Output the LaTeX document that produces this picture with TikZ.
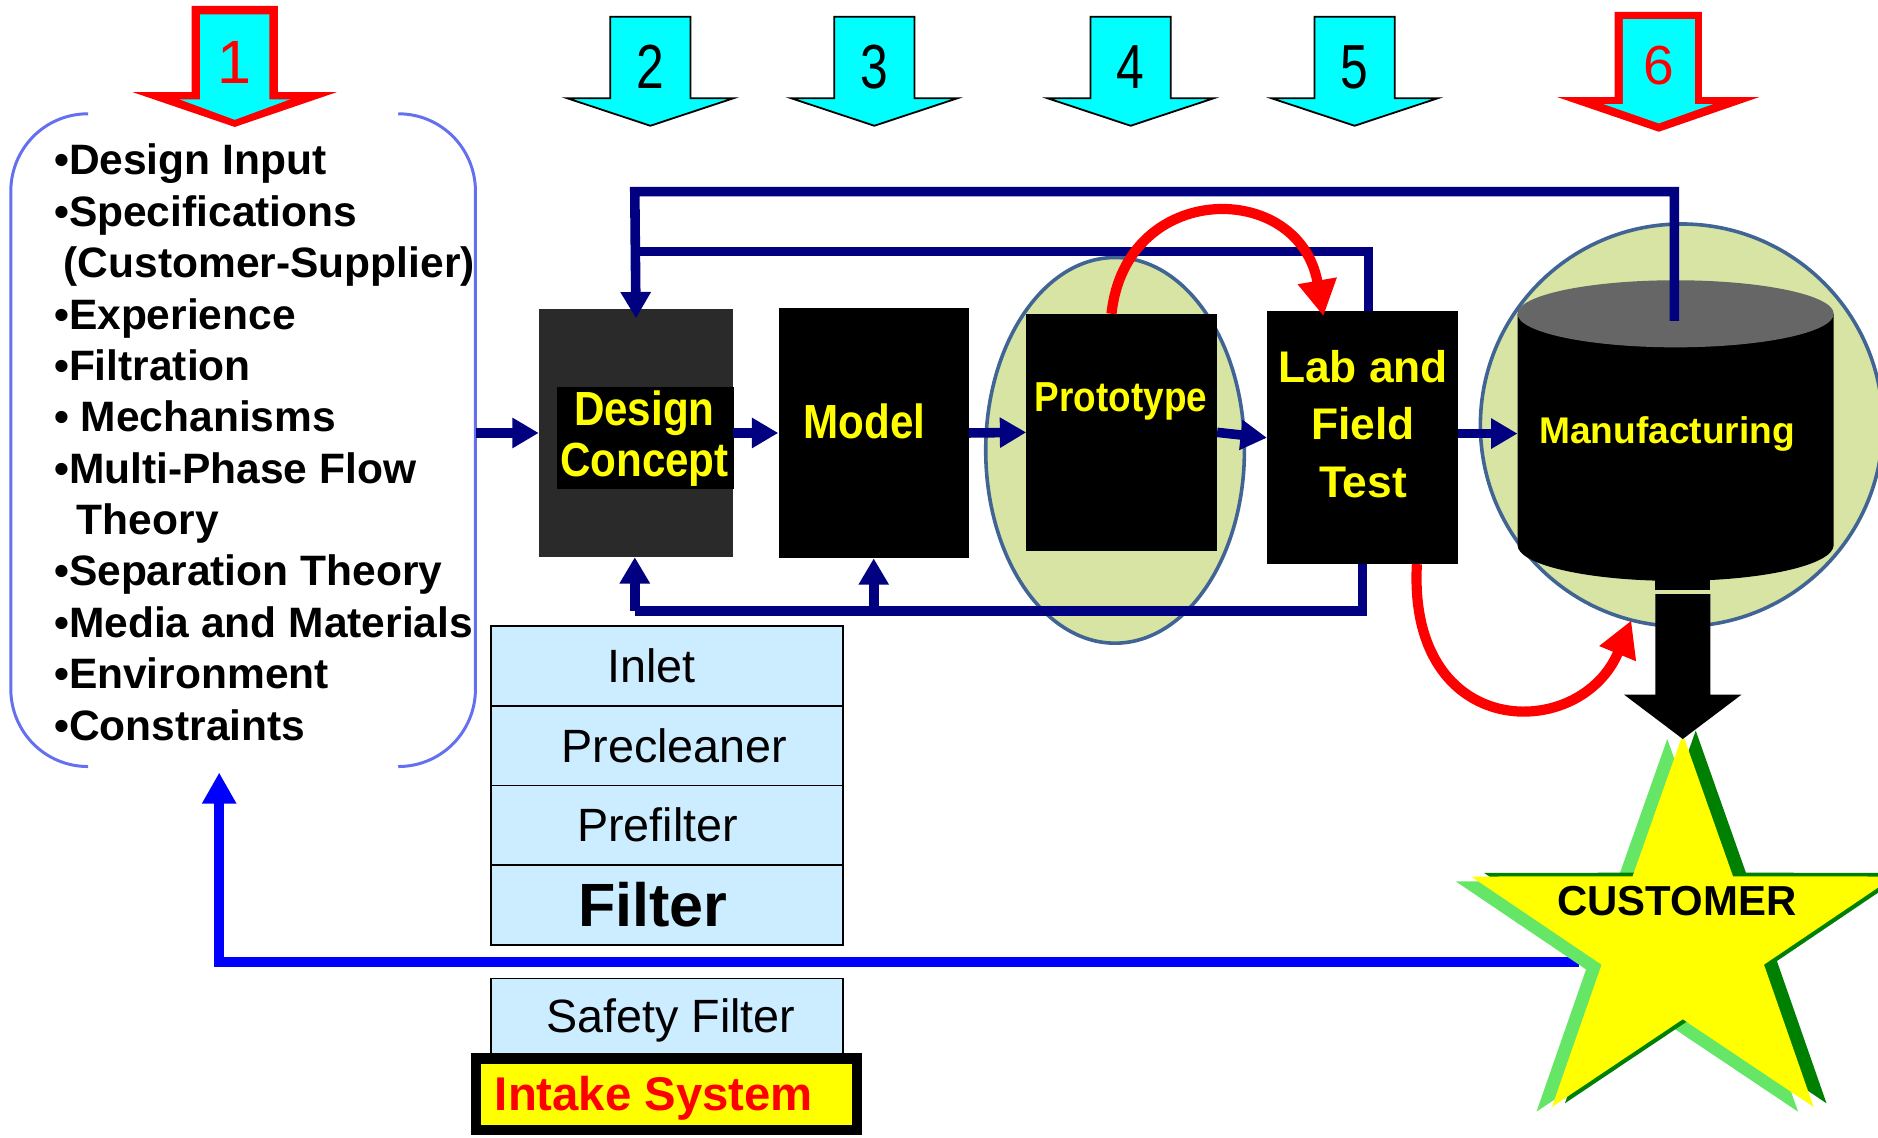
\documentclass[tikz,border=0pt]{standalone}
\usepackage{fontspec}
\setmainfont{Liberation Sans}
\newfontfamily\condfont[FakeStretch=0.88]{Liberation Sans}
\newfontfamily\narrowfont[FakeStretch=0.8]{Liberation Sans}
\usetikzlibrary{arrows.meta,shapes.geometric}
\definecolor{navy}{RGB}{0,0,128}
\definecolor{pgreen}{RGB}{215,228,164}
\definecolor{eborder}{RGB}{64,100,148}
\definecolor{brk}{RGB}{100,112,240}
\definecolor{lblue}{RGB}{204,236,255}
\definecolor{lgreen}{RGB}{102,230,102}
\definecolor{dgreen}{RGB}{0,128,0}
\definecolor{ayellow}{RGB}{255,255,0}
\definecolor{acyan}{RGB}{0,255,255}
\definecolor{cgray}{RGB}{102,102,102}
\definecolor{dcgray}{RGB}{42,42,42}
\definecolor{ared}{RGB}{255,0,0}
\definecolor{ablue}{RGB}{0,0,255}
\begin{document}
\begin{tikzpicture}[x=1pt,y=-1pt,
  lt/.style={anchor=base west, inner sep=0pt, font=\fontsize{35.5}{43}\selectfont\bfseries},
  blackbox/.style={fill=black, inner sep=0pt},
  ytext/.style={text=ayellow, inner sep=0pt, align=center},
  navyline/.style={draw=navy, line width=8pt},
  navyarrow/.style={navyline, -{Triangle[length=22pt,width=24pt]}},
  redarc/.style={draw=ared, line width=8.5pt, -{Triangle[length=30pt,width=31pt]}},
  sbox/.style={draw=black, line width=1.5pt, fill=lblue, minimum width=294pt, minimum height=66.5pt, inner sep=0pt, font=\fontsize{39}{39}\selectfont},
  cyanarrow/.style={fill=acyan, draw=black, line width=1.5pt},
  numtext/.style={inner sep=0pt, font=\narrowfont\fontsize{52}{52}\selectfont}
]
\useasboundingbox (0,0) rectangle (1568,950);

% ---- numbered arrows ----
\fill[ared] (160,5) -- (232,5) -- (232,77) -- (281,77) -- (196,106) -- (111,77) -- (160,77) -- cycle;
\fill[acyan] (167,12) -- (225,12) -- (225,83) -- (242,83) -- (196,100) -- (150,83) -- (167,83) -- cycle;
\node[inner sep=0pt, text=ared, font=\fontsize{51}{51}\selectfont] (n1) at (196,52) {1};

\foreach \c/\n in {543/2,730/3,944/4,1131/5}{
  \draw[cyanarrow] (\c-33.5,14) -- (\c+33.5,14) -- (\c+33.5,82) -- (\c+69.5,82) -- (\c,105) -- (\c-69.5,82) -- (\c-33.5,82) -- cycle;
  \node[numtext] (n\n) at (\c,56) {\n};
}

\fill[ared] (1348,10) -- (1421,10) -- (1421,81) -- (1469,81) -- (1385,110) -- (1300,81) -- (1348,81) -- cycle;
\fill[acyan] (1355,16) -- (1415,16) -- (1415,87) -- (1430,87) -- (1385,103) -- (1339,87) -- (1355,87) -- cycle;
\node[inner sep=0pt, text=ared, font=\fontsize{46}{46}\selectfont] (n6) at (1385,55) {6};

% ---- input bracket ----
\node[minimum width=388pt, minimum height=545pt, inner sep=0pt] (inputs) at (203,367.5) {};
\draw[brk, line width=2.5pt] (73.5,95) .. controls (37.5,95) and (9,124) .. (9,160) -- (9,575) .. controls (9,611) and (37.5,640) .. (73.5,640);
\draw[brk, line width=2.5pt] (332.5,95) .. controls (368.5,95) and (397,124) .. (397,160) -- (397,575) .. controls (397,611) and (368.5,640) .. (332.5,640);

\node[lt] (l0) at (45,146) {•Design Input};
\node[lt] (l1) at (45,188.9) {•Specifications};
\node[lt] (l2) at (53,231.8) {(Customer-Supplier)};
\node[lt] (l3) at (45,274.7) {•Experience};
\node[lt] (l4) at (45,317.6) {•Filtration};
\node[lt] (l5) at (45,360.5) {• Mechanisms};
\node[lt] (l6) at (45,403.4) {•Multi-Phase Flow};
\node[lt] (l7) at (64,446.3) {Theory};
\node[lt] (l8) at (45,489.2) {•Separation Theory};
\node[lt] (l9) at (45,532.1) {•Media and Materials};
\node[lt] (l10) at (45,575) {•Environment};
\node[lt] (l11) at (45,617.9) {•Constraints};

% ---- green ellipses ----
\node[ellipse, fill=pgreen, draw=eborder, line width=3pt, minimum width=216pt, minimum height=322pt, inner sep=0pt] (pell) at (931,376) {};
\node[circle, fill=pgreen, draw=eborder, line width=3pt, minimum size=336pt, inner sep=0pt] (mcirc) at (1404,355) {};

% ---- process boxes ----
\node[fill=dcgray, minimum width=162pt, minimum height=207pt, inner sep=0pt] (dc) at (531,361.5) {};
\node[blackbox, minimum width=148pt, minimum height=85pt] (dci) at (539,365.5) {};
\node[ytext, font=\condfont\bfseries\fontsize{40}{43}\selectfont] (dct) at (538,366) {Design\\Concept};

\node[blackbox, minimum width=159pt, minimum height=209pt] (model) at (729.5,361.5) {};
\node[ytext, font=\condfont\bfseries\fontsize{40}{40}\selectfont] (modelt) at (722,352) {Model};

\node[blackbox, minimum width=159pt, minimum height=198pt] (proto) at (936.5,361) {};
\node[ytext, font=\condfont\bfseries\fontsize{35}{35}\selectfont] (protot) at (936,335) {Prototype};

\node[blackbox, minimum width=159pt, minimum height=211pt] (lab) at (1137.5,365.5) {};
\node[ytext, font=\bfseries\fontsize{37}{48}\selectfont] (labt) at (1138,354) {Lab and\\Field\\Test};

% ---- cylinder ----
\fill[black] (1267,262) -- (1267,455) .. controls (1267,471.6) and (1326.1,485) .. (1399,485) .. controls (1471.9,485) and (1531,471.6) .. (1531,455) -- (1531,262) -- cycle;
\fill[cgray] (1399,262) ellipse [x radius=132, y radius=28];
\coordinate (cylL) at (1267,362);
\coordinate (cylT) at (1398,268);
\node[ytext, font=\bfseries\fontsize{31}{31}\selectfont] (mfg) at (1392,362) {Manufacturing};

% ---- navy connectors ----
\draw[navyarrow] (inputs.east |- dc.west) -- (dc.west);
\draw[navyarrow] (dc.east) -- (model.west);
\draw[navyarrow] (model.east) -- (proto.west);
\draw[navyarrow] (proto.east) -- (lab.west);
\draw[navyarrow] (lab.east |- cylL) -- (cylL);
\coordinate (tA) at (530,160);
\coordinate (tB) at (530,210);
\coordinate (bA) at (530,510);
\coordinate (bM) at (729.5,510);
\draw[navyarrow] (cylT) |- (tA) -- ([yshift=-8pt]dc.north);
\draw[navyline] ([xshift=5pt]lab.north) |- (tB);
\draw[navyline] (lab.south) |- (bA);
\draw[navyarrow] (bA) -- (bA |- dc.south);
\draw[navyarrow] (bM) -- (model.south);

% ---- red arcs ----
\coordinate (r1s) at (928,262);
\coordinate (r1e) at (1105,264);
\draw[redarc] (r1s) .. controls (940,150) and (1085,150) .. (r1e);
\coordinate (r2s) at (1183,471);
\coordinate (r2e) at (1362,518);
\draw[redarc] (r2s) .. controls (1175,620) and (1320,620) .. (r2e);

% ---- intake stack ----
\node[sbox] (inlet) at (557,556) {\hspace*{-26pt}Inlet};
\node[sbox] (precl) at (557,622.5) {Precleaner\hspace*{-12pt}};
\node[sbox] (prefilt) at (557,689) {\hspace*{-16pt}Prefilter};
\node[sbox, font=\bfseries\fontsize{51}{51}\selectfont] (filt) at (557,755.5) {\hspace*{-24pt}Filter};
\node[sbox, minimum height=73pt] (safety) at (557,853.5) {};
\node[inner sep=0pt, font=\fontsize{39}{39}\selectfont] (safetyt) at (560,852) {Safety Filter};
\node[draw=black, line width=9pt, fill=ayellow, minimum width=318pt, minimum height=60pt, inner sep=0pt] (intake) at (556.5,913.5) {};
\node[inner sep=0pt, text=ared, font=\bfseries\fontsize{39.5}{39.5}\selectfont] (intaket) at (546,917) {Intake System};

% ---- blue feedback ----
\coordinate (starL) at (1318,803);
\coordinate (fbtip) at (183,645);
\draw[draw=ablue, line width=8pt, -{Triangle[length=26pt,width=27pt]}] (starL) -| (fbtip);

% ---- star ----
\begin{scope}[shift={(1405,785)}, xscale=1.08]
\foreach \dx/\dy/\col in {-12/4/lgreen, 10/-3/dgreen, 0/0/ayellow}{
  \fill[\col, shift={(\dx,\dy)}] (-90:172) -- (-54:66) -- (-18:172) -- (18:66) -- (54:172) -- (90:66) -- (126:172) -- (162:66) -- (198:172) -- (234:66) -- cycle;
}
\end{scope}

% ---- black arrow ----
\fill[black] (1382,484) rectangle (1428,493);
\fill[black] (1382,496) -- (1428,496) -- (1428,580) -- (1454,580) -- (1405,617) -- (1356,580) -- (1382,580) -- cycle;

\node[inner sep=0pt, font=\bfseries\fontsize{35}{35}\selectfont] (cust) at (1400,752) {CUSTOMER};
\end{tikzpicture}
\end{document}
